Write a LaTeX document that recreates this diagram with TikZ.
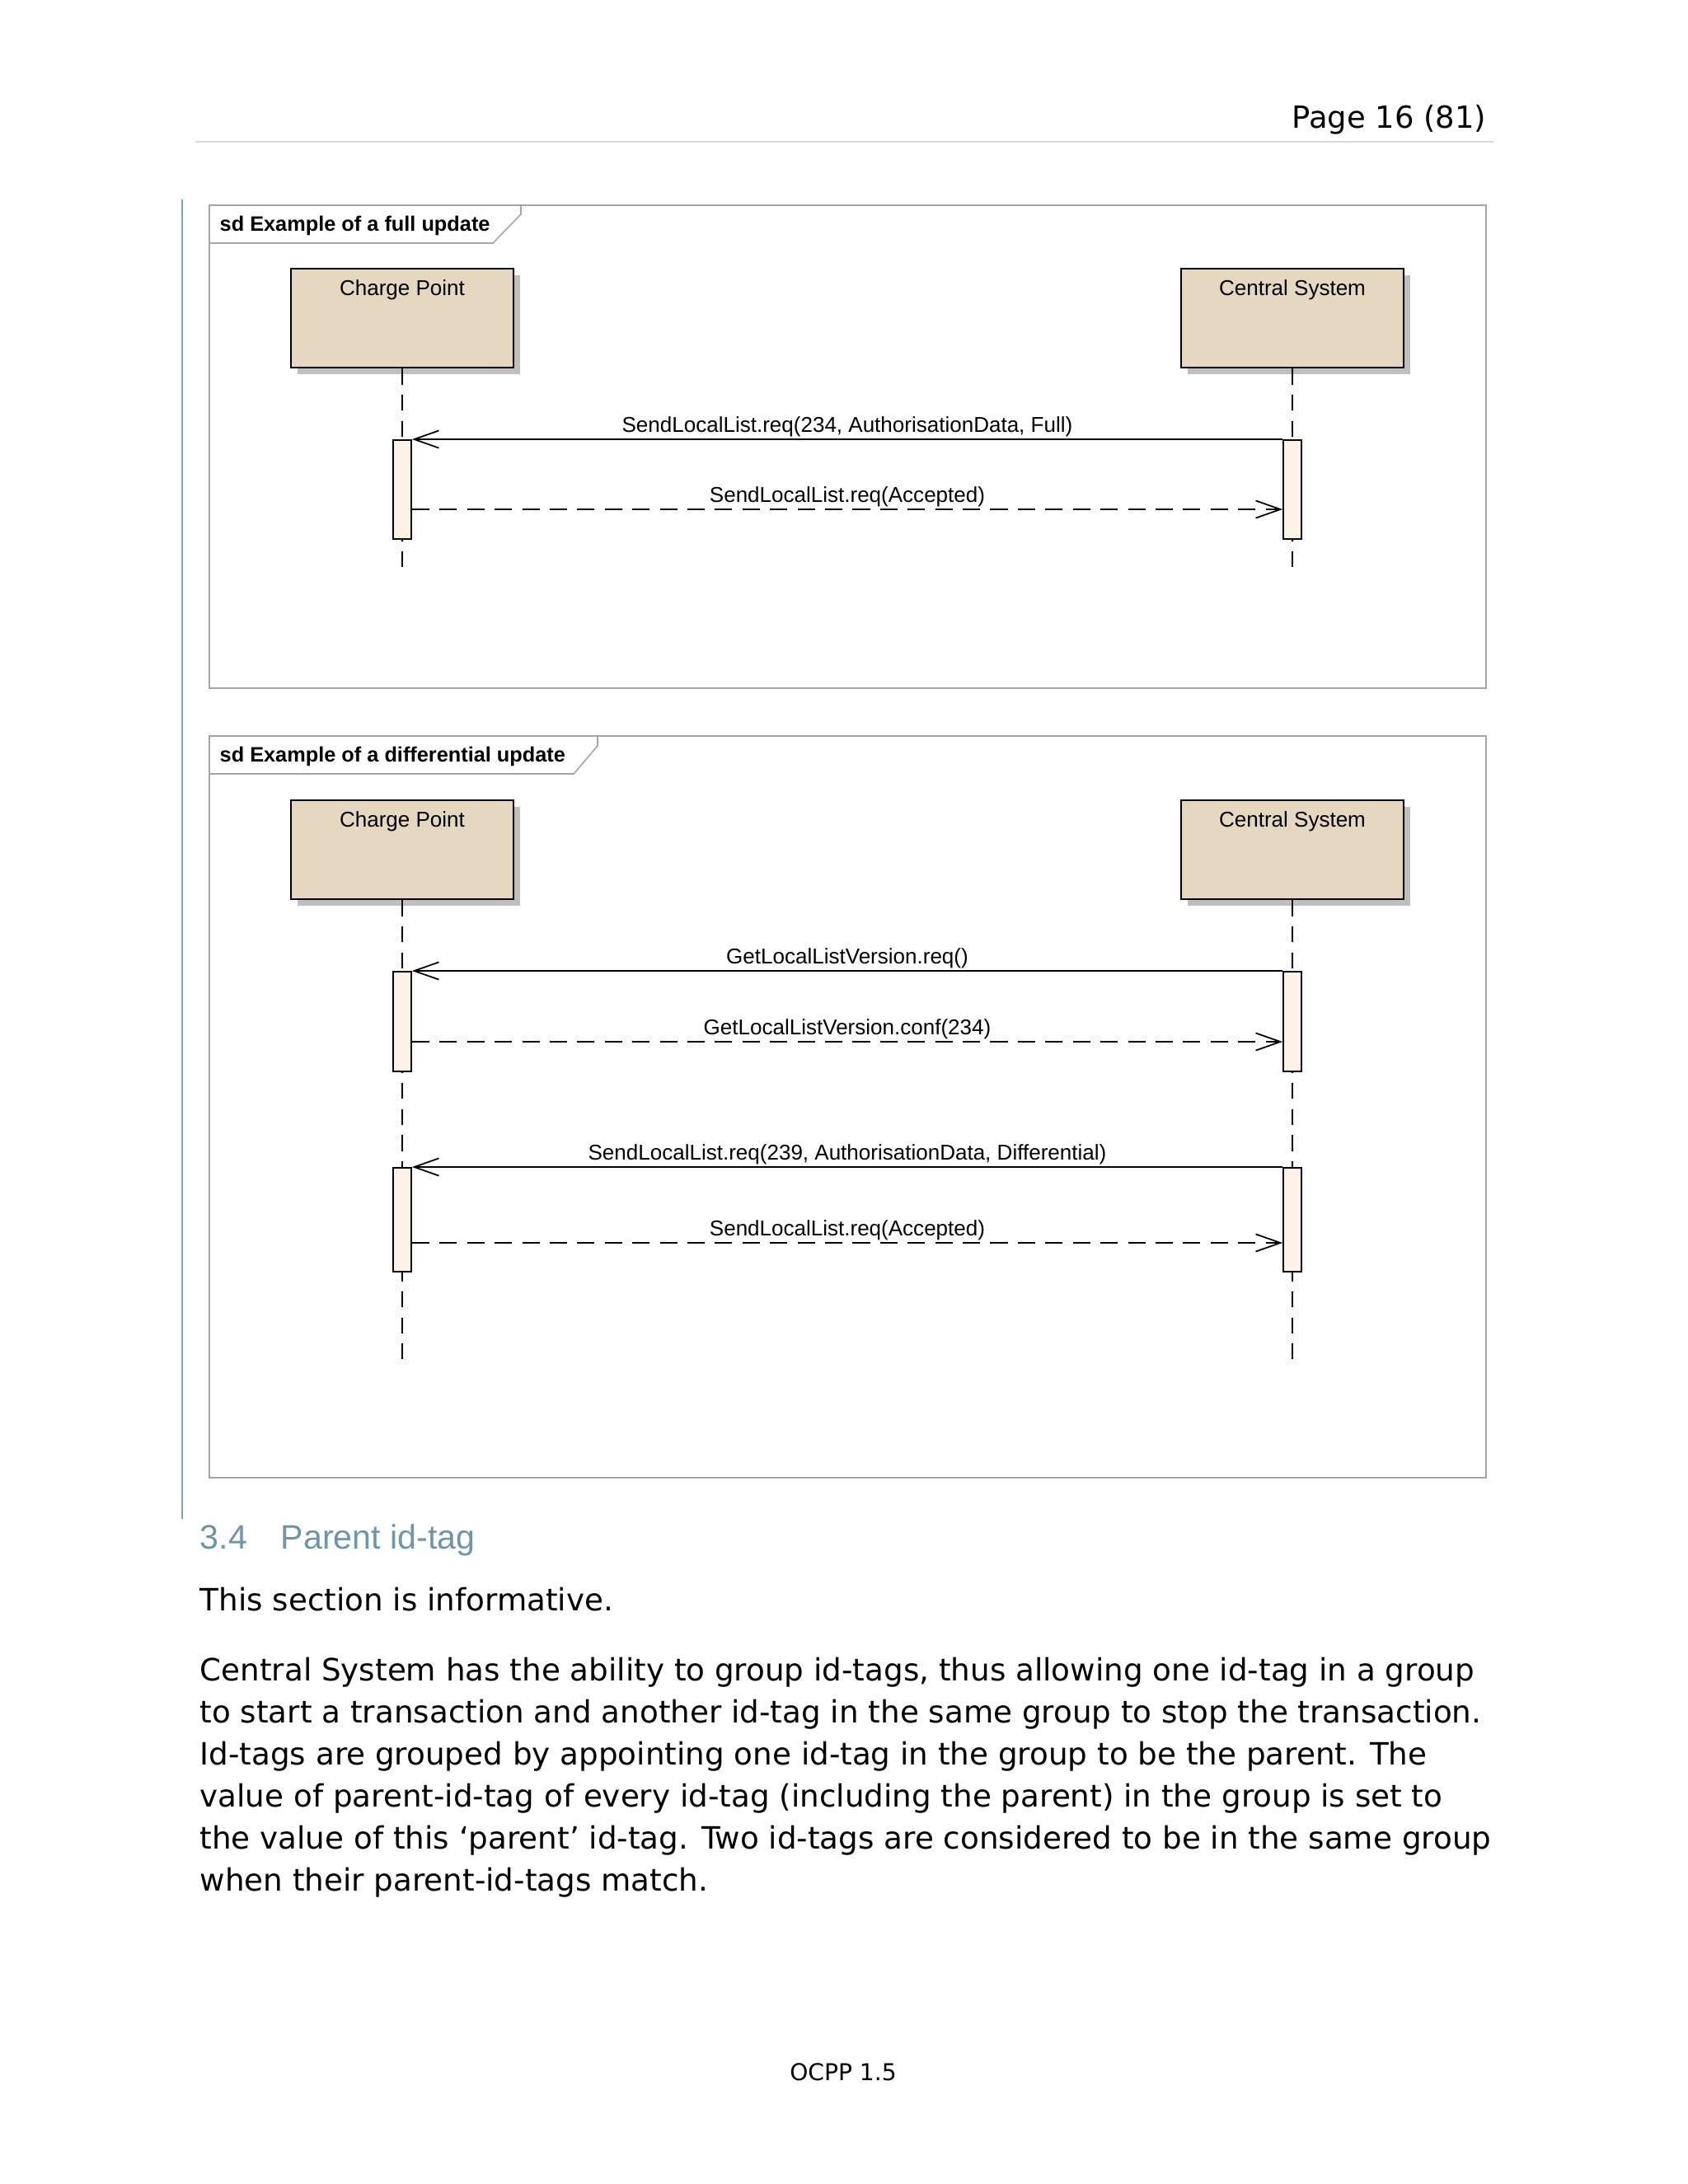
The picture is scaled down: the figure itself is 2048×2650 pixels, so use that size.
\documentclass[tikz,border=0pt]{standalone}
\usepackage{fontspec}
\setmainfont{DejaVu Sans}
\newfontfamily\umlfont{Liberation Sans}
\newfontfamily\headfont{Liberation Sans}
\usetikzlibrary{arrows.meta,shadows}
\definecolor{lifebox}{RGB}{230,216,192}
\definecolor{actfill}{RGB}{253,242,230}
\definecolor{framegray}{RGB}{165,165,165}
\definecolor{rulegray}{RGB}{215,215,215}
\definecolor{headblue}{RGB}{110,150,168}
\definecolor{sidebar}{RGB}{130,165,185}

\begin{document}
\begin{tikzpicture}[x=0.01cm,y=-0.01cm,
	frame/.style={draw=framegray, line width=0.45pt},
	frametext/.style={font=\umlfont\bfseries\fontsize{7.2}{8.5}\selectfont, anchor=base west, inner sep=0pt},
	head/.style={draw=black, line width=0.75pt, fill=lifebox, minimum width=2.7cm, minimum height=1.2cm, inner sep=0pt,
		drop shadow={shadow xshift=0.08cm, shadow yshift=-0.08cm, fill=black!25, opacity=1}},
	headtext/.style={font=\umlfont\fontsize{7.4}{9}\selectfont, anchor=base, inner sep=0pt},
	life/.style={line width=0.5pt, dash pattern=on 5.5pt off 3.5pt},
	bar/.style={draw=black, line width=0.5pt, fill=actfill, minimum width=0.22cm, inner sep=0pt, anchor=north},
	call/.style={-{Straight Barb[length=8.5pt,width=6pt,line width=0.5pt]}, line width=0.5pt},
	reply/.style={call, dash pattern=on 6pt off 3.5pt},
	msgtext/.style={font=\umlfont\fontsize{7.4}{9}\selectfont, anchor=base, inner sep=0pt, midway, yshift=0.09cm},
	]
\useasboundingbox (0,0) rectangle (2048,2650);

%----------------------------
% Page head, side bar
%----------------------------
\node[anchor=base east, font=\fontsize{10.5}{12}\selectfont, inner sep=0pt] (pagenr) at (1804,155) {Page 16 (81)};
\draw[rulegray, line width=0.6pt] (237,172) -- (1812,172);
\draw[sidebar, line width=0.7pt] (221,242) -- (221,1843);

%----------------------------
% Top: full update
%----------------------------
\begin{scope}
	% frame and its tab
	\draw[frame] (254,249) rectangle (1803,835);
	\draw[frame] (254,295) -- (598,295) -- (632,260) -- (632,249);
	\node[frametext] (fulltitle) at (266,280) {sd Example of a full update};
	
	% lifeline heads
	\node[head] (cpfull) at (488,386) {};
	\node[headtext] (cpfulltext) at (488,358) {Charge Point};
	\node[head] (csfull) at (1568,386) {};
	\node[headtext] (csfulltext) at (1568,358) {Central System};
	
	% lifelines
	\coordinate (cpfullend) at (488,692);
	\coordinate (csfullend) at (1568,692);
	\draw[life] (cpfull.south) -- (cpfullend);
	\draw[life] (csfull.south) -- (csfullend);
	
	% activations
	\node[bar, minimum height=1.2cm] (cpfullact) at (488,533) {};
	\node[bar, minimum height=1.2cm] (csfullact) at (1568,533) {};
	
	% messages
	\coordinate (fullreply) at (0,618);
	\draw[call] (csfullact.north west) -- node[msgtext] {SendLocalList.req(234, AuthorisationData, Full)} (cpfullact.north east);
	\draw[reply] (cpfullact.east |- fullreply) -- node[msgtext] {SendLocalList.req(Accepted)} (csfullact.west |- fullreply);
\end{scope}

%----------------------------
% Bottom: differential update
%----------------------------
\begin{scope}[shift={(0,644)}]
	% frame and its tab
	\draw[frame] (254,249) rectangle (1803,1149);
	\draw[frame] (254,295) -- (696,295) -- (725,261) -- (725,249);
	\node[frametext] (difftitle) at (266,280) {sd Example of a differential update};
	
	% lifeline heads
	\node[head] (cpdiff) at (488,387) {};
	\node[headtext] (cpdifftext) at (488,359) {Charge Point};
	\node[head] (csdiff) at (1568,387) {};
	\node[headtext] (csdifftext) at (1568,359) {Central System};
	
	% lifelines
	\coordinate (cpdiffend) at (488,1005);
	\coordinate (csdiffend) at (1568,1005);
	\draw[life] (cpdiff.south) -- (cpdiffend);
	\draw[life] (csdiff.south) -- (csdiffend);
	
	% activations
	\node[bar, minimum height=1.21cm] (cpveract) at (488,534) {};
	\node[bar, minimum height=1.21cm] (csveract) at (1568,534) {};
	\node[bar, minimum height=1.26cm] (cplistact) at (488,772) {};
	\node[bar, minimum height=1.26cm] (cslistact) at (1568,772) {};
	
	% messages
	\coordinate (verreply) at (0,620);
	\coordinate (listreply) at (0,864);
	\draw[call] (csveract.north west) -- node[msgtext] {GetLocalListVersion.req()} (cpveract.north east);
	\draw[reply] (cpveract.east |- verreply) -- node[msgtext] {GetLocalListVersion.conf(234)} (csveract.west |- verreply);
	\draw[call] (cslistact.north west) -- node[msgtext] {SendLocalList.req(239, AuthorisationData, Differential)} (cplistact.north east);
	\draw[reply] (cplistact.east |- listreply) -- node[msgtext] {SendLocalList.req(Accepted)} (cslistact.west |- listreply);
\end{scope}

%----------------------------
% Text below
%----------------------------
\node[anchor=base west, font=\headfont\fontsize{11.7}{14}\selectfont, text=headblue, inner sep=0pt] (secnr) at (242,1879) {3.4};
\node[anchor=base west, font=\headfont\fontsize{11.7}{14}\selectfont, text=headblue, inner sep=0pt] (sectitle) at (340,1879) {Parent id-tag};
\node[anchor=base west, font=\fontsize{10.6}{14.5}\selectfont, inner sep=0pt] (informative) at (242,1954) {This section is informative.};
% base of a node of several lines is its last line
\node[anchor=base west, font=\fontsize{10.6}{14.5}\selectfont, inner sep=0pt, align=left] (parenttext) at (242,2294)
	{Central System has the ability to group id-tags, thus allowing one id-tag in a group\\
	to start a transaction and another id-tag in the same group to stop the transaction.\\
	Id-tags are grouped by appointing one id-tag in the group to be the parent. The\\
	value of parent-id-tag of every id-tag (including the parent) in the group is set to\\
	the value of this `parent' id-tag. Two id-tags are considered to be in the same group\\
	when their parent-id-tags match.};

\node[anchor=base, font=\fontsize{8}{10}\selectfont, inner sep=0pt] (footer) at (1023,2524) {OCPP 1.5};
\end{tikzpicture}
\end{document}
